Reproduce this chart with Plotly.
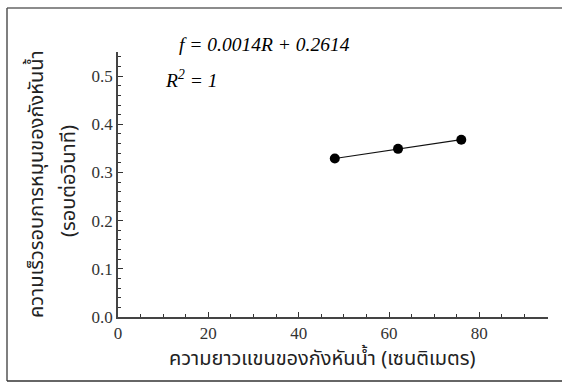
import plotly.graph_objects as go

# Data
arm_length_cm = [48, 62, 76]
rotation_rate = [0.329, 0.349, 0.368]
x_ticks = [0, 20, 40, 60, 80]
y_ticks = [0.0, 0.1, 0.2, 0.3, 0.4, 0.5]
y_tick_labels = ["0.0", "0.1", "0.2", "0.3", "0.4", "0.5"]
x_title = "ความยาวแขนของกังหันน้ำ (เซนติเมตร)"
y_title_1 = "ความเร็วรอบการหมุนของกังหันน้ำ"
y_title_2 = "(รอบต่อวินาที)"
equation = "f = 0.0014R + 0.2614"
r2_text = "R<sup>2</sup> = 1"

thai_font = "Noto Sans Thai"
serif_font = "Liberation Serif"

fig = go.Figure()
fig.add_trace(go.Scatter(
    x=arm_length_cm, y=rotation_rate, mode="lines+markers",
    line=dict(color="#111111", width=1.2),
    marker=dict(color="#000000", size=10),
    showlegend=False,
))

W, H = 562, 383
L, R, T, B = 118, 14, 52, 66
pw, ph = W - L - R, H - T - B

def px(xp):
    return (xp - L) / pw

def py(yp):
    return 1 - (yp - T) / ph

tick_font = dict(family=serif_font, size=17, color="#333333")
axis_common = dict(
    showgrid=False, zeroline=False, showline=True, linecolor="#444444", linewidth=1.5,
    ticks="inside", ticklen=5, tickwidth=1, tickcolor="#333333",
)

fig.update_xaxes(
    range=[0, 95.2], tickvals=x_ticks, ticktext=[str(v) for v in x_ticks],
    tickfont=tick_font, ticklabelstandoff=0,
    minor=dict(dtick=5, tick0=0, ticks="inside", ticklen=3, tickcolor="#333333"),
    **axis_common,
)
fig.update_yaxes(
    range=[0, 0.55], tickvals=y_ticks, ticktext=y_tick_labels,
    tickfont=tick_font, ticklabelstandoff=0,
    minor=dict(dtick=0.02, tick0=0, ticks="inside", ticklen=3, tickcolor="#333333"),
    **axis_common,
)

annotations = [
    dict(text=x_title, x=px(322), y=py(376), xref="paper", yref="paper",
         showarrow=False, font=dict(family=thai_font, size=20, color="#222222")),
    dict(text=y_title_1, x=px(20), y=py(184), xref="paper", yref="paper",
         showarrow=False, textangle=-90, font=dict(family=thai_font, size=20, color="#222222")),
    dict(text=y_title_2, x=px(52), y=py(181), xref="paper", yref="paper",
         showarrow=False, textangle=-90, font=dict(family=thai_font, size=20, color="#222222")),
    dict(text="<i>" + equation + "</i>", x=px(177), y=py(32), xref="paper", yref="paper",
         xanchor="left", showarrow=False, font=dict(family=serif_font, size=19.5, color="#000000")),
    dict(text="<i>" + r2_text + "</i>", x=px(163), y=py(65), xref="paper", yref="paper",
         xanchor="left", showarrow=False, font=dict(family=serif_font, size=19.5, color="#000000")),
]

shapes = [
    dict(type="line", xref="paper", yref="paper", x0=px(7), x1=px(570), y0=py(8), y1=py(8),
         line=dict(color="#666666", width=1.5)),
    dict(type="line", xref="paper", yref="paper", x0=px(7), x1=px(7), y0=py(8), y1=py(381),
         line=dict(color="#555555", width=1.5)),
    dict(type="line", xref="paper", yref="paper", x0=px(7), x1=px(570), y0=py(381), y1=py(381),
         line=dict(color="#333333", width=1.5)),
]

fig.update_layout(
    width=W, height=H, margin=dict(l=L, r=R, t=T, b=B),
    paper_bgcolor="white", plot_bgcolor="white",
    annotations=annotations, shapes=shapes,
)

fig.write_html(
    "out.html",
    config={"displayModeBar": False},
    post_script="document.body.style.margin='0';document.body.style.overflow='hidden';",
)
